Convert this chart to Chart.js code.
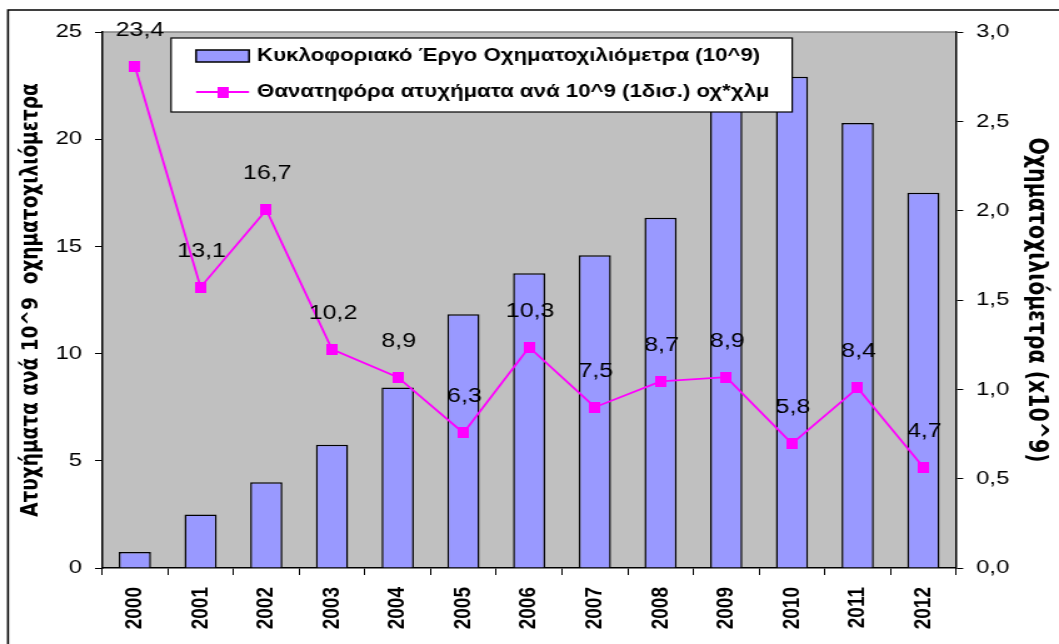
<!DOCTYPE html>
<html><head><meta charset="utf-8">
<script src="https://cdn.jsdelivr.net/npm/chart.js@4.4.1/dist/chart.umd.min.js"></script>
<style>
html,body{margin:0;padding:0;background:#fff;overflow:hidden}
#c{display:block}
</style></head><body>
<canvas id="c" style="width:1059px;height:644px"></canvas>
<script>
// ---------- data ----------
const years = ['2000','2001','2002','2003','2004','2005','2006','2007','2008','2009','2010','2011','2012'];
const vehicleKm = [0.09, 0.30, 0.48, 0.69, 1.01, 1.42, 1.65, 1.75, 1.96, 2.80, 2.75, 2.49, 2.10];
const fatalRate = [23.4, 13.1, 16.7, 10.2, 8.9, 6.3, 10.3, 7.5, 8.7, 8.9, 5.8, 8.4, 4.7];
const leftTicks = ['0','5','10','15','20','25'];
const rightTicks = ['0,0','0,5','1,0','1,5','2,0','2,5','3,0'];
const barLabel = 'Κυκλοφοριακό Έργο Οχηματοχιλιόμετρα (10^9)';
const lineLabel = 'Θανατηφόρα ατυχήματα ανά 10^9 (1δισ.) οχ*χλμ';
const leftTitle = 'Ατυχήματα ανά 10^9  οχηματοχιλιόμετρα';
const rightTitle = 'Οχηματοχιλιόμετρα (x10^9)';

// ---------- layout / style ----------
const SX = 1.25;                 // horizontal text stretch of the original
const W = Math.round(1059 / SX), H = 644;
const X = v => v / SX;           // original-x to canvas-x
const FONT = '"Liberation Sans", Arial, sans-serif';
const TFONT = '"DejaVu Sans", "Liberation Sans", sans-serif';
const canvas = document.getElementById('c');
canvas.width = W; canvas.height = H;
canvas.style.width = '1059px'; canvas.style.height = '644px';

function markerImg(w, h, color) {
  const c = document.createElement('canvas'); c.width = w; c.height = h;
  const g = c.getContext('2d'); g.fillStyle = color; g.fillRect(0, 0, w, h); return c;
}
const marker = markerImg(Math.round(X(11)), 11, '#FF00FF');
const fmt1 = v => v.toFixed(1).replace('.', ',');

const bgPlugin = {
  id: 'bg',
  beforeDraw(chart) {
    const {ctx, chartArea: a} = chart;
    ctx.save();
    ctx.fillStyle = '#fff'; ctx.fillRect(0, 0, W, H);
    ctx.fillStyle = '#C0C0C0'; ctx.fillRect(a.left, a.top, a.right - a.left, a.bottom - a.top);
    ctx.strokeStyle = '#808080'; ctx.lineWidth = 1.5;
    ctx.beginPath(); ctx.moveTo(a.left, a.top); ctx.lineTo(a.right, a.top); ctx.stroke();
    ctx.strokeStyle = '#000'; ctx.lineWidth = 1.6;
    ctx.beginPath(); ctx.moveTo(X(8), H + 2); ctx.lineTo(X(8), 10); ctx.lineTo(W + 2, 10); ctx.stroke();
    ctx.restore();
  }
};

const labelPlugin = {
  id: 'vals',
  afterDatasetsDraw(chart) {
    const {ctx} = chart;
    const meta = chart.getDatasetMeta(1);
    ctx.save();
    ctx.font = '20px ' + FONT; ctx.fillStyle = '#000';
    ctx.textAlign = 'center'; ctx.textBaseline = 'middle';
    meta.data.forEach((p, i) => {
      ctx.fillText(fmt1(fatalRate[i]), p.x + (i === 0 ? X(5) : X(1)), p.y - 36);
    });
    ctx.restore();
  }
};

const legendPlugin = {
  id: 'leg',
  afterDraw(chart) {
    const {ctx} = chart;
    const ds = chart.data.datasets;
    const bx = X(171), by = 38, bw = X(792) - X(171), bh = 74;
    ctx.save();
    ctx.fillStyle = '#fff'; ctx.fillRect(bx, by, bw, bh);
    ctx.strokeStyle = '#000'; ctx.lineWidth = 1.2; ctx.strokeRect(bx, by, bw, bh);
    const sx0 = X(196), sx1 = X(249);
    ctx.fillStyle = ds[0].backgroundColor; ctx.fillRect(sx0, 50, sx1 - sx0, 12);
    ctx.lineWidth = 1.5; ctx.strokeStyle = '#000'; ctx.strokeRect(sx0, 50, sx1 - sx0, 12);
    ctx.strokeStyle = ds[1].borderColor; ctx.lineWidth = 2;
    ctx.beginPath(); ctx.moveTo(sx0, 92); ctx.lineTo(sx1, 92); ctx.stroke();
    ctx.drawImage(marker, (sx0 + sx1) / 2 - marker.width / 2, 92 - marker.height / 2);
    ctx.fillStyle = '#000'; ctx.font = 'bold 17.8px ' + FONT;
    ctx.textAlign = 'left'; ctx.textBaseline = 'middle';
    ctx.fillText(ds[0].label, X(257), 56);
    ctx.fillText(ds[1].label, X(257), 92);
    ctx.restore();
  }
};

const LT = 18.5, RT = 20.5;
new Chart(canvas, {
  data: {
    labels: years,
    datasets: [
      { type: 'bar', label: barLabel, data: vehicleKm, yAxisID: 'y1', order: 2,
        backgroundColor: '#9999FF', borderColor: '#000', borderWidth: 1.5,
        barPercentage: 0.49, categoryPercentage: 1.0 },
      { type: 'line', label: lineLabel, data: fatalRate, yAxisID: 'y', order: 1,
        borderColor: '#FF00FF', backgroundColor: '#FF00FF', borderWidth: 1.8,
        pointStyle: marker, pointRadius: 5, tension: 0 }
    ]
  },
  options: {
    responsive: false, animation: false, devicePixelRatio: 1,
    layout: { padding: { top: 32, left: 0, right: 0, bottom: 0 } },
    plugins: { legend: { display: false }, tooltip: { enabled: false } },
    scales: {
      x: {
        afterFit: s => { s.height = 76; },
        grid: { offset: true, drawOnChartArea: false, drawTicks: true, tickLength: 7, color: '#000', lineWidth: 1 },
        border: { display: true, color: '#000', width: 1.5 },
        ticks: { minRotation: 90, maxRotation: 90, padding: 12, color: '#000',
                 font: { family: FONT, size: 19, weight: 'bold' } }
      },
      y: {
        position: 'left', min: 0, max: 25,
        afterFit: s => { s.width = X(102); },
        grid: { drawOnChartArea: false, drawTicks: true, tickLength: X(7), color: '#000' },
        border: { display: true, color: '#000', width: 1.5 },
        ticks: { stepSize: 5, padding: X(13), color: '#000', font: { family: FONT, size: 19 },
                 callback: (v, i) => leftTicks[i] },
        title: { display: true, text: leftTitle, color: '#000',
                 font: { family: TFONT, size: LT, weight: 'bold', lineHeight: 1.2 },
                 padding: { top: X(31) - LT * 0.6, bottom: 0 } }
      },
      y1: {
        position: 'right', min: 0, max: 3,
        afterFit: s => { s.width = W - X(956); },
        grid: { drawOnChartArea: false, drawTicks: true, tickLength: X(7), color: '#000' },
        border: { display: true, color: '#000', width: 1.5 },
        ticks: { stepSize: 0.5, padding: X(13), color: '#000', font: { family: FONT, size: 19 },
                 callback: (v, i) => rightTicks[i] },
        title: { display: true, text: rightTitle, color: '#000',
                 font: { family: TFONT, size: RT, weight: 'bold', lineHeight: 1.2 },
                 padding: { top: X(1059 - 1036) - RT * 0.6, bottom: 0 } }
      }
    }
  },
  plugins: [bgPlugin, labelPlugin, legendPlugin]
});
</script>
</body></html>
